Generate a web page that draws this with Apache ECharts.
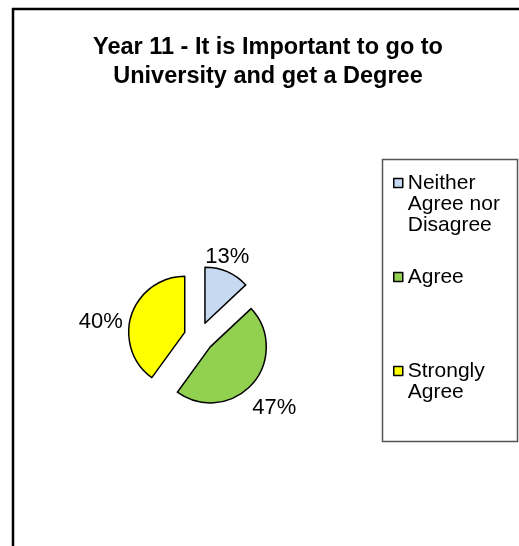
<!DOCTYPE html>
<html>
<head>
<meta charset="utf-8">
<script src="https://cdn.jsdelivr.net/npm/echarts@6/dist/echarts.min.js"></script>
<style>
  html, body { margin: 0; padding: 0; overflow: hidden; background: #fff; }
  #main { width: 536px; height: 546px; }
</style>
</head>
<body>
<div id="main"></div>
<script>
// chart data
let categories = ["Neither Agree nor Disagree", "Agree", "Strongly Agree"];
let legendLines = [["Neither", "Agree nor", "Disagree"], ["Agree"], ["Strongly", "Agree"]];
let percentValues = [13, 47, 40];
let sliceColors = ["#C6D9F1", "#92D050", "#FFFF00"];
let chartTitle = "Year 11 - It is Important to go to\nUniversity and get a Degree";

// small nudges so the percent labels sit where Excel put them
let labelShift = [[-30, -8], [-11, 19], [4, 9]];

let fontName = "Liberation Sans, Arial, sans-serif";
let legendLineH = 21;

function legendText(name) {
    // pad with blank lines so the first line sits level with the icon
    let lines = legendLines[categories.indexOf(name)].slice();
    let before = 2;
    let after = 5 - before - lines.length;
    for (let i = 0; i < before; i = i + 1) { lines.unshift(""); }
    for (let i = 0; i < after; i = i + 1) { lines.push(""); }
    return lines.join("\n");
}

function makePieChart() {
    let myChart = echarts.init(document.getElementById("main"));

    let pieData = [];
    for (let i = 0; i < categories.length; i = i + 1) {
        pieData.push({
            name: categories[i],
            value: percentValues[i],
            selected: true,
            itemStyle: { color: sliceColors[i] }
        });
    }

    let option = {
        animation: false,
        title: {
            text: chartTitle,
            left: "center",
            top: 33,
            padding: 0,
            textStyle: {
                fontFamily: fontName,
                fontSize: 23.5,
                fontWeight: "bold",
                color: "#000",
                lineHeight: 29
            }
        },
        legend: {
            orient: "vertical",
            left: 393,
            top: 183 - 2.5 * legendLineH,
            padding: 0,
            itemGap: 94 - 5 * legendLineH,
            itemWidth: 9,
            itemHeight: 9,
            icon: "rect",
            selectedMode: false,
            data: categories,
            itemStyle: { borderColor: "#000", borderWidth: 1.5 },
            formatter: legendText,
            textStyle: {
                fontFamily: fontName,
                fontSize: 21,
                lineHeight: legendLineH,
                color: "#000"
            }
        },
        graphic: [
            {
                type: "rect",
                shape: { x: 13, y: 9, width: 600, height: 600 },
                style: { fill: "none", stroke: "#000", lineWidth: 2.5 },
                silent: true
            },
            {
                type: "rect",
                shape: { x: 382.5, y: 159.5, width: 135, height: 282 },
                style: { fill: "none", stroke: "#555", lineWidth: 1.5 },
                silent: true
            }
        ],
        series: [
            {
                type: "pie",
                center: [199, 337],
                radius: 56,
                startAngle: 90,
                clockwise: true,
                selectedMode: "multiple",
                selectedOffset: 15,
                data: pieData,
                itemStyle: { borderColor: "#000", borderWidth: 1.5 },
                label: {
                    position: "outside",
                    formatter: "{c}%",
                    fontFamily: fontName,
                    fontSize: 22,
                    color: "#000"
                },
                labelLine: { show: false, length: 8, length2: 0 },
                labelLayout: function (p) {
                    return { dx: labelShift[p.dataIndex][0], dy: labelShift[p.dataIndex][1] };
                },
                emphasis: { disabled: true }
            }
        ]
    };

    myChart.setOption(option);
}

makePieChart();
</script>
</body>
</html>
